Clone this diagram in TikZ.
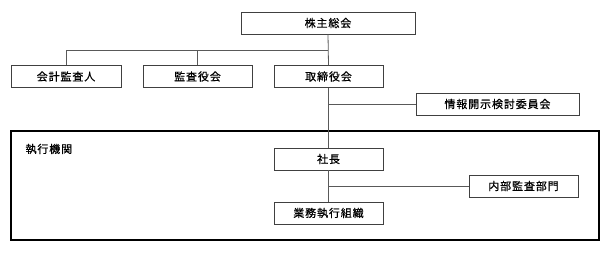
\documentclass[tikz,border=0pt]{standalone}
\usepackage{fontspec}
\setmainfont[LetterSpace=8,FakeBold=0.6]{Noto Sans CJK JP}

\begin{document}
\begin{tikzpicture}[x=1pt,y=-1pt,font=\fontsize{11}{13}\selectfont,
  box/.style={draw=black!75,line width=0.8pt,minimum height=22pt,inner sep=0pt},
  link/.style={draw=black!65,line width=0.8pt}]
  \useasboundingbox (0,0) rectangle (612,252);
  % upper governance
  \node[box,minimum width=174pt] (share) at (328,23) {株主総会};
  \node[box,minimum width=110pt] (auditor) at (66,76.5) {会計監査人};
  \node[box,minimum width=109pt] (kansa) at (197.5,76.5) {監査役会};
  \node[box,minimum width=109pt] (board) at (328.5,76.5) {取締役会};
  \node[box,minimum width=163pt] (disclose) at (497.5,104) {情報開示検討委員会};
  % executive body
  \draw[black,line width=1.2pt] (11,131) rectangle (599,240);
  \node[anchor=west] (execlabel) at (22,149) {執行機関};
  \node[box,minimum width=109pt] (pres) at (328.5,159) {社長};
  \node[box,minimum width=109pt] (ops) at (328.5,213) {業務執行組織};
  \node[box,minimum width=109pt] (audit) at (523.5,186) {内部監査部門};
  % connectors
  \coordinate (fork) at ([yshift=-16pt]share.south);
  \draw[link] (share.south) -- (board.north);
  \draw[link] (auditor.north) |- (fork);
  \draw[link] (kansa.north) |- (fork);
  \draw[link] (board.south) -- (pres.north);
  \draw[link] (board.south |- disclose.west) -- (disclose.west);
  \draw[link] (pres.south) -- (ops.north);
  \draw[link] (pres.south |- audit.west) -- (audit.west);
\end{tikzpicture}
\end{document}
